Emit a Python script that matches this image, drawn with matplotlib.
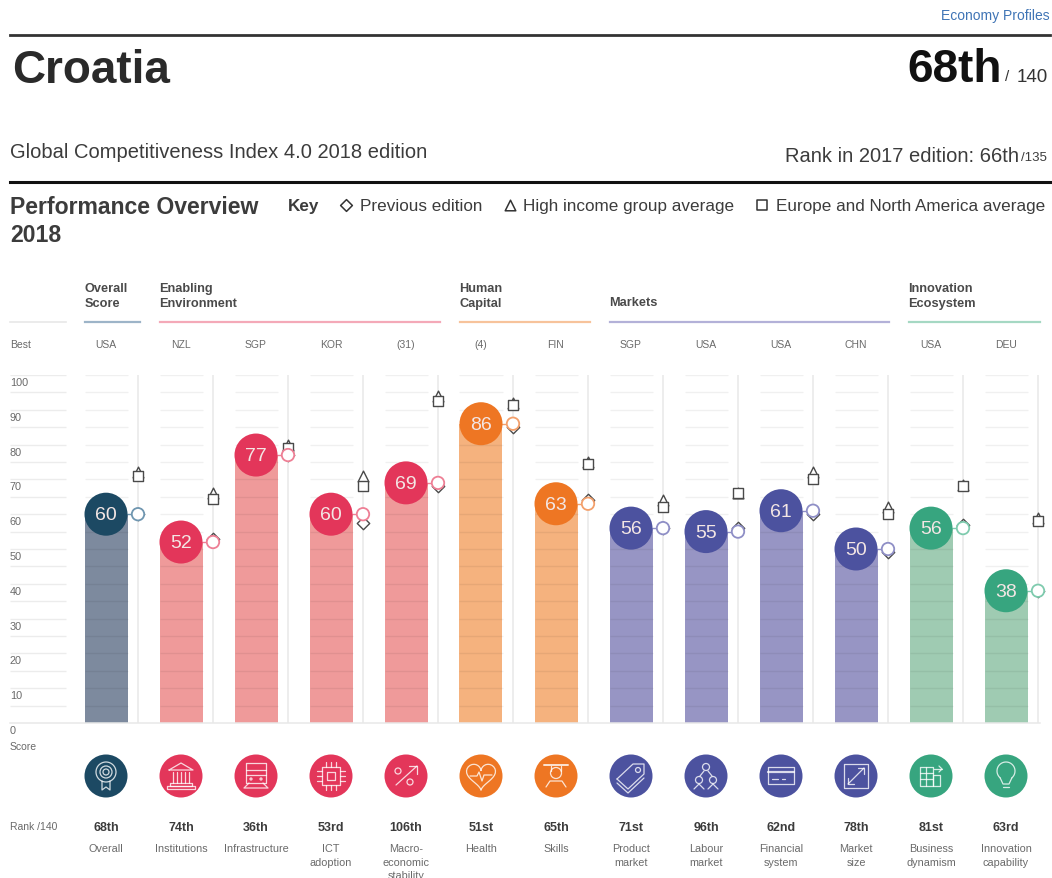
# -*- coding: utf-8 -*-
import numpy as np
import matplotlib
matplotlib.use('Agg')
import matplotlib.pyplot as plt
from matplotlib.patches import Circle

plt.rcParams['font.family'] = ['Liberation Sans', 'DejaVu Sans']

# data
best = ['USA', 'NZL', 'SGP', 'KOR', '(31)', '(4)', 'FIN', 'SGP', 'USA', 'USA', 'CHN', 'USA', 'DEU']
scores = [60, 52, 77, 60, 69, 86, 63, 56, 55, 61, 50, 56, 38]
previous = [60, 53, 77, 57.5, 68, 85, 64, 56, 56, 60, 49, 57, 38]
high_income = [72, 66, 80, 71, 94, 92, 75, 64, 66, 72, 62, 68.5, 59]
europe = [71, 64.5, 79, 68, 92.5, 91.5, 74.5, 62, 66, 70, 60, 68, 58]
ranks = ['68th', '74th', '36th', '53rd', '106th', '51st', '65th', '71st', '96th', '62nd', '78th', '81st', '63rd']
names = ['Overall', 'Institutions', 'Infrastructure', 'ICT\nadoption', 'Macro-\neconomic\nstability',
         'Health', 'Skills', 'Product\nmarket', 'Labour\nmarket', 'Financial\nsystem',
         'Market\nsize', 'Business\ndynamism', 'Innovation\ncapability']
groups = ['overall', 'enabling', 'enabling', 'enabling', 'enabling', 'human', 'human',
          'markets', 'markets', 'markets', 'markets', 'innovation', 'innovation']
group_titles = ['Overall\nScore', 'Enabling\nEnvironment', 'Human\nCapital', 'Markets', 'Innovation\nEcosystem']
score_ticks = [0, 10, 20, 30, 40, 50, 60, 70, 80, 90, 100]
grid_steps = np.arange(5, 101, 5)

# colours
dark = {'overall': '#1c4963', 'enabling': '#e3365a', 'human': '#ee7623', 'markets': '#4c529f', 'innovation': '#37a57f'}
light = {'overall': '#7d8a9e', 'enabling': '#ef9a9a', 'human': '#f5b27e', 'markets': '#9795c4', 'innovation': '#9fcbb2'}
ring = {'overall': '#6f96b0', 'enabling': '#ee7f95', 'human': '#f3a06c', 'markets': '#8f8fc6', 'innovation': '#7fcbae'}
rule = {'overall': '#9db4c8', 'enabling': '#f4a9b8', 'human': '#f7c39b', 'markets': '#b3b1d8', 'innovation': '#a5d8c3'}
TXT = '#3c3c3c'
SMALL = '#6a6a6a'

W, H = 1052, 879
fig = plt.figure(figsize=(W / 100, H / 100), dpi=100)

# page layer in pixels, for headers and icons
lay = fig.add_axes([0, 0, 1, 1])
lay.set_xlim(0, W)
lay.set_ylim(H, 0)
lay.axis('off')

# chart layer: x is column number, y is score
Y0, Y100 = 724.0, 376.0
X0, STEP = 106.0, 75.0
ax = fig.add_axes([0, 1 - Y0 / H, 1, (Y0 - Y100) / H])
ax.set_xlim(-X0 / STEP, (W - X0) / STEP)
ax.set_ylim(0, 100)
ax.axis('off')
ax.patch.set_alpha(0)

cols = np.arange(len(scores))
half = 21.5 / STEP
line_off = 32 / STEP
disc = (43 * 0.72) ** 2
colors_dark = [dark[g] for g in groups]
colors_light = [light[g] for g in groups]
colors_ring = [ring[g] for g in groups]

# bars, then grid on top of them
ax.bar(cols, scores, width=half * 2, color=colors_light, zorder=1)
ax.plot([(10 - X0) / STEP, (1040 - X0) / STEP], [0, 0], color='#e8e8e8', lw=1.1, zorder=1, clip_on=False)
ax.vlines(cols + line_off, 0, 100, color='#e8e8e8', lw=1.1, zorder=1)
ax.hlines(grid_steps, (10 - X0) / STEP, (66 - X0) / STEP, color='#ececec', lw=1.0, zorder=2)
for c in cols:
    ax.hlines(grid_steps, c - half, c + half, color='black', alpha=0.06, lw=1.0, zorder=2)

# connector, comparison markers, current score
for c, s, col in zip(cols, scores, colors_ring):
    ax.plot([c, c + line_off], [s, s], color=col, lw=1, zorder=3)
mk = dict(facecolor='white', edgecolor='#4a4a4a', linewidth=1.0, zorder=4, clip_on=False)
ax.scatter(cols + line_off, previous, marker='D', s=40, **mk)
ax.scatter(cols + line_off, high_income, marker='^', s=60, **mk)
ax.scatter(cols + line_off, europe, marker='s', s=48, **mk)
ax.scatter(cols + line_off, scores, s=80, facecolor='white', edgecolor=colors_ring, linewidth=1.3, zorder=5)
ax.scatter(cols, scores, s=disc, color=colors_dark, linewidth=0, zorder=6, clip_on=False)
for c, s in zip(cols, scores):
    ax.text(c, s - 0.2, str(s), color='#f3e6e4', fontsize=14, ha='center', va='center', zorder=7)

# left scale
for t in score_ticks:
    y = Y0 - (Y0 - Y100) * t / 100
    lay.text(10, y + 7, str(t), fontsize=7.8, color=SMALL, ha='left', va='center')
lay.text(10, 747.5, 'Score', fontsize=7.5, color=SMALL, va='center')
lay.text(10, 345, 'Best', fontsize=7.5, color=SMALL, va='center')
lay.text(10, 827.5, 'Rank /140', fontsize=7.5, color=SMALL, va='center')
lay.plot([10, 66], [322.5, 322.5], color='#e8e8e8', lw=1.2)

# top block
lay.text(1050, 16, 'Economy Profiles', fontsize=10, color='#3f74b5', ha='right', va='center')
lay.plot([10, 1050], [35.5, 35.5], color='#333333', lw=2)
lay.text(12, 71, 'Croatia', fontsize=33, fontweight='bold', color='#2a2a2a', ha='left', va='center')
lay.text(1002, 70, '68th', fontsize=33, fontweight='bold', color='#111111', ha='right', va='center')
lay.text(1005, 77, '/', fontsize=11, color='#333333', ha='left', va='center')
lay.text(1048, 77, '140', fontsize=13.5, color='#333333', ha='right', va='center')
lay.text(10, 152.5, 'Global Competitiveness Index 4.0 2018 edition', fontsize=14.5, color=TXT, va='center')
lay.text(1019, 157, 'Rank in 2017 edition: 66th', fontsize=14.5, color=TXT, ha='right', va='center')
lay.text(1021, 158, '/135', fontsize=9.5, color=TXT, ha='left', va='center')
lay.plot([10, 1050], [183, 183], color='#111111', lw=2.2)

# key
lay.text(10, 207.5, 'Performance Overview', fontsize=16.6, fontweight='bold', color=TXT, va='center')
lay.text(10, 235.5, '2018', fontsize=16.6, fontweight='bold', color=TXT, va='center')
lay.text(288, 207, 'Key', fontsize=12.3, fontweight='bold', color=TXT, va='center')
key_items = [(346, 'D', 'Previous edition', 360, 36), (510, '^', 'High income group average', 523, 58),
             (762, 's', 'Europe and North America average', 776, 50)]
for kx, m, label, tx, ms in key_items:
    lay.scatter([kx], [206], marker=m, s=ms, facecolor='white', edgecolor='#333333', linewidth=1.1)
    lay.text(tx, 207, label, fontsize=12.35, color=TXT, va='center')

# group headers
spans = [(85, 140), (160, 440), (460, 590), (610, 889), (909, 1040)]
for (x1, x2), title, g in zip(spans, group_titles, ['overall', 'enabling', 'human', 'markets', 'innovation']):
    lay.plot([x1, x2], [322.5, 322.5], color=rule[g], lw=1.6)
    lay.text(x1 - 0.5, 310 if '\n' in title else 303.5, title, fontsize=9.2, fontweight='bold', color='#4a4a4a',
             va='bottom' if '\n' in title else 'center', linespacing=1.3)


def line(cx, cy, pts, lw=0.9, close=False):
    p = np.array(pts, dtype=float)
    if close:
        p = np.vstack([p, p[0]])
    lay.plot(cx + p[:, 0], cy + p[:, 1], color='white', lw=lw, alpha=0.8, zorder=6, solid_capstyle='round')


def ring_at(cx, cy, r, lw=0.9):
    lay.add_patch(Circle((cx, cy), r, fill=False, ec='white', lw=lw, alpha=0.8, zorder=6))


def box(cx, cy, pts):
    line(cx, cy, [pts[0], (pts[1][0], pts[0][1]), pts[1], (pts[0][0], pts[1][1])], close=True)


def icon(name, x, y):
    if name == 'overall':
        ring_at(x, y - 4, 10); ring_at(x, y - 4, 6); ring_at(x, y - 4, 3)
        line(x, y, [(-4, 5), (-4, 14), (0, 11), (4, 14), (4, 5)])
    elif name == 'inst':
        line(x, y, [(-12, -6), (0, -13), (12, -6)], close=True)
        for dx in (-8, -4, 0, 4, 8):
            line(x, y, [(dx, -4), (dx, 7)])
        box(x, y, [(-11, 7), (11, 10)])
        box(x, y, [(-14, 10), (14, 13)])
    elif name == 'train':
        box(x, y, [(-10, -13), (10, 7)])
        line(x, y, [(-10, -6), (10, -6)]); line(x, y, [(-10, -1), (10, -1)])
        ring_at(x - 5, y + 3, 1); ring_at(x + 5, y + 3, 1)
        line(x, y, [(-7, 7), (-12, 12), (12, 12), (7, 7)])
    elif name == 'chip':
        box(x, y, [(-9, -9), (9, 9)]); box(x, y, [(-4, -4), (4, 4)])
        for d in (-5, 0, 5):
            line(x, y, [(d, -14), (d, -9)]); line(x, y, [(d, 9), (d, 14)])
            line(x, y, [(-14, d), (-9, d)]); line(x, y, [(9, d), (14, d)])
    elif name == 'macro':
        line(x, y, [(-10, 9), (11, -10)])
        line(x, y, [(3, -10), (11, -10), (11, -2)])
        ring_at(x - 8, y - 5, 3); ring_at(x + 4, y + 6, 3)
    elif name == 'heart':
        t = np.linspace(0, 2 * np.pi, 50)
        line(x, y, np.c_[14.5 * np.sin(t) ** 3, -(13 * np.cos(t) - 5 * np.cos(2 * t) - 2 * np.cos(3 * t) - np.cos(4 * t)) * 0.9 - 1])
        line(x, y, [(-11, 0), (-4, 0), (-2, -4), (1, 5), (3, -1), (11, -1)])
    elif name == 'skills':
        line(x, y, [(-12, -11), (12, -11)], lw=1.4)
        line(x, y, [(-5, -10), (-5, -5)]); line(x, y, [(5, -10), (5, -5)])
        ring_at(x, y - 3, 5.5)
        line(x, y, [(-10, 11), (-6, 5), (6, 5), (10, 11)])
    elif name == 'tag':
        line(x, y, [(-14, 3), (2, -12), (13, -12), (13, -2), (-3, 13)], close=True)
        ring_at(x + 7, y - 6, 2.5)
        line(x, y, [(-14, 7), (-3, 17), (13, 2)])
    elif name == 'people':
        ring_at(x, y - 9, 3.5); ring_at(x - 7, y + 4, 3.5); ring_at(x + 7, y + 4, 3.5)
        line(x, y, [(-2, -5), (-6, 0)]); line(x, y, [(2, -5), (6, 0)])
        line(x, y, [(-12, 13), (-7, 8), (-2, 13)]); line(x, y, [(2, 13), (7, 8), (12, 13)])
    elif name == 'card':
        box(x, y, [(-13, -9), (13, 8)])
        line(x, y, [(-13, -4), (13, -4)], lw=1.6)
        line(x, y, [(-9, 3), (-3, 3)]); line(x, y, [(1, 3), (4, 3)])
    elif name == 'resize':
        box(x, y, [(-12, -12), (12, 12)])
        line(x, y, [(-8, 8), (8, -8)])
        line(x, y, [(2, -8), (8, -8), (8, -2)]); line(x, y, [(-8, 2), (-8, 8), (-2, 8)])
    elif name == 'build':
        box(x, y, [(-11, -9), (2, 10)]); box(x, y, [(2, -1), (9, 10)])
        line(x, y, [(-11, -3), (2, -3)]); line(x, y, [(-11, 3), (2, 3)]); line(x, y, [(-5, -9), (-5, 10)])
        line(x, y, [(3, -7), (11, -7)]); line(x, y, [(8, -10), (11, -7), (8, -4)])
    elif name == 'bulb':
        t = np.linspace(0.7, 2 * np.pi - 0.7, 40) + np.pi
        line(x, y, np.c_[9 * np.sin(t), -9 * np.cos(t) - 5])
        line(x, y, [(-5.8, 2), (-3, 8), (3, 8), (5.8, 2)])
        line(x, y, [(-3, 11), (3, 11)])


icon_names = ['overall', 'inst', 'train', 'chip', 'macro', 'heart', 'skills', 'tag', 'people', 'card', 'resize', 'build', 'bulb']

# bottom rows
for c in cols:
    cx = X0 + STEP * c
    lay.add_patch(Circle((cx, 777), 21.5, color=colors_dark[c], lw=0, zorder=5))
    icon(icon_names[c], cx, 777)
    lay.text(cx, 828, ranks[c], fontsize=9, fontweight='bold', color='#3c3c3c', ha='center', va='center')
    lay.text(cx, 844.5, names[c], fontsize=7.8, color=SMALL, ha='center', va='top', linespacing=1.4, clip_on=False)
    lay.text(cx, 345.5, best[c], fontsize=7.5, color=SMALL, ha='center', va='center')

fig.savefig('out.png', dpi=100)
